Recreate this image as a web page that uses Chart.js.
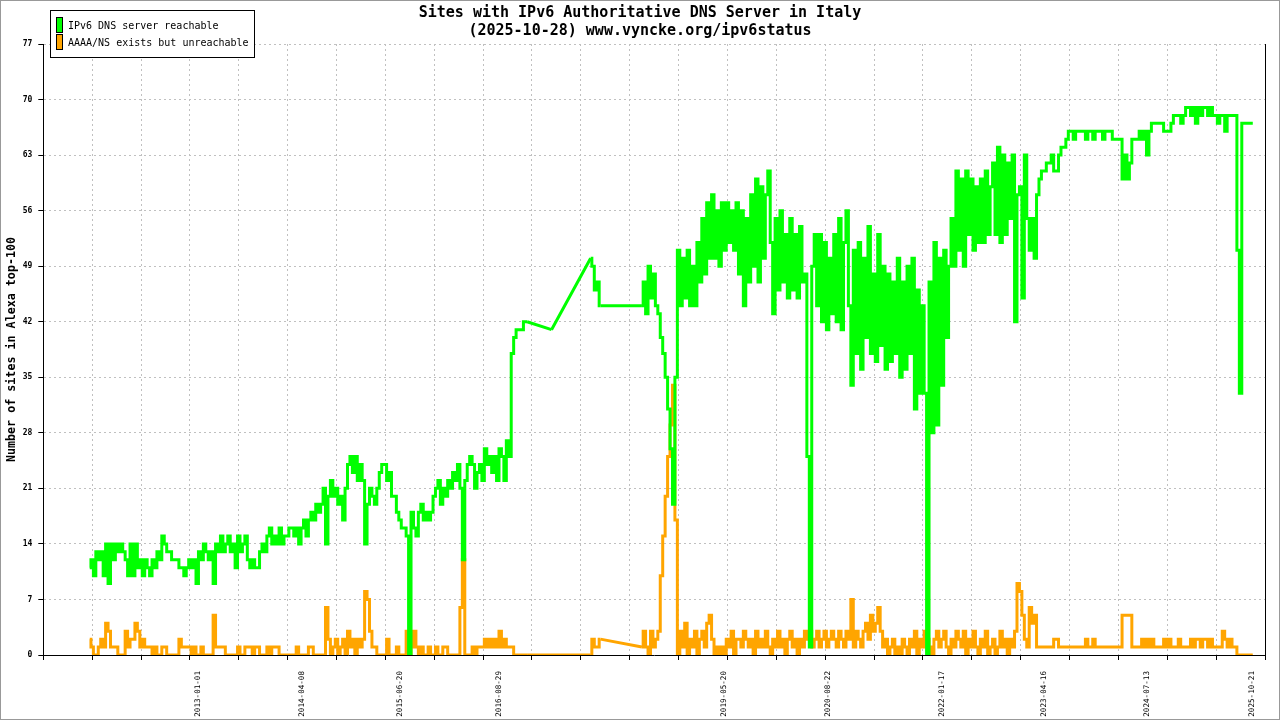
<!DOCTYPE html>
<html>
<head>
<meta charset="utf-8">
<title>IPv6 Authoritative DNS Server in Italy</title>
<script src="https://cdn.jsdelivr.net/npm/chart.js@4.4.1/dist/chart.umd.min.js"></script>
<style>
    body { margin: 0; background: #fff; }
    #wrap { width: 1280px; height: 720px; }
</style>
</head>
<body>
<div id="wrap"><canvas id="dnsChart" width="1280" height="720"></canvas></div>
<script>
// Sites with IPv6 authoritative DNS server - Italy

// samples are on an index axis, first sample at index 19, null = no sample
const sampleStart = 19;

const reachable = [
    11,
    12,10,13,12,13,10,14,9,14,12,14,13,14,13,12,10,14,10,14,11,
    12,10,12,11,10,12,11,13,12,15,14,13,13,12,12,12,11,11,10,11,
    12,11,12,9,13,12,14,13,12,13,9,14,13,15,13,14,15,13,14,11,
    15,13,14,15,12,11,12,11,11,13,14,13,15,16,14,15,14,16,14,15,
    15,16,16,15,16,14,16,17,15,17,18,17,19,18,19,21,14,20,22,20,
    21,19,20,17,21,24,25,23,25,22,24,22,14,19,21,20,19,21,23,24,
    24,22,23,20,20,18,17,16,16,15,0,18,16,15,18,19,17,18,17,18,
    20,21,22,19,21,20,22,21,23,22,24,21,12,22,24,25,24,21,23,24,
    22,26,24,25,23,25,22,26,25,22,27,25,38,40,41,41,41,42,42,null,
    null,null,null,null,null,null,null,null,41,null,null,null,null,null,null,null,null,null,null,null,
    null,null,null,null,50,49,46,47,44,null,null,null,null,null,null,null,null,null,null,null,
    null,null,null,null,null,44,47,43,49,45,48,44,43,40,38,35,31,26,19,35,
    51,44,50,45,51,44,49,44,52,47,55,48,57,50,58,50,56,49,57,51,
    57,52,56,51,57,48,56,44,55,47,58,49,60,47,59,50,58,61,52,43,
    55,46,56,47,53,45,55,46,53,45,54,47,48,25,1,49,53,44,53,42,
    52,41,50,43,53,42,55,41,52,56,44,34,51,38,52,36,50,40,54,38,
    48,37,53,39,49,36,48,37,47,38,50,35,47,36,49,38,50,31,46,33,
    44,33,0,47,28,52,29,50,34,51,40,49,55,49,61,51,60,49,61,53,
    60,51,59,52,60,52,61,53,59,62,53,64,52,63,53,62,55,63,42,58,
    59,45,63,55,51,55,50,58,60,61,61,62,62,63,61,61,63,64,64,65,
    66,66,65,66,66,66,66,65,66,66,65,66,66,66,65,66,66,66,65,65,
    65,65,60,63,60,62,65,65,65,66,65,66,63,66,67,67,67,67,67,66,
    66,66,67,68,68,68,67,68,69,69,68,69,67,69,68,69,69,68,69,68,
    68,67,68,68,66,68,68,68,68,51,33,67,67,67,67,67
];

const unreachable = [
    2,
    1,0,0,1,2,1,4,3,1,1,1,0,0,0,3,1,2,2,4,3,
    1,2,1,1,1,0,1,0,0,1,1,0,0,0,0,0,2,1,1,1,
    1,0,1,0,0,1,0,0,0,0,5,1,1,1,1,0,0,0,0,0,
    1,0,0,1,1,1,0,1,1,0,0,0,1,0,1,1,1,0,0,0,
    0,0,0,0,1,0,0,0,0,1,1,0,0,0,0,0,6,2,0,1,
    2,0,1,2,0,3,1,2,0,2,1,2,8,7,3,1,1,0,0,0,
    0,2,0,0,0,1,0,0,0,3,0,1,3,1,0,1,0,0,1,0,
    0,1,0,0,1,1,0,0,0,0,0,6,12,0,0,0,1,0,1,1,
    1,2,1,2,1,2,1,3,1,2,1,1,1,0,0,0,0,0,0,null,
    null,null,null,null,null,null,null,null,0,null,null,null,null,null,null,null,null,null,null,null,
    null,null,null,null,0,2,1,1,2,null,null,null,null,null,null,null,null,null,null,null,
    null,null,null,null,null,1,3,1,0,3,1,2,3,10,15,20,25,29,34,17,
    0,3,1,4,0,2,1,3,0,2,3,1,4,5,2,0,1,0,1,0,
    2,1,3,0,2,2,1,3,2,1,2,0,3,1,2,1,3,1,0,2,
    1,3,1,2,0,2,3,1,2,0,2,1,3,2,3,1,2,3,1,2,
    3,1,2,3,2,1,3,2,1,3,2,7,1,3,2,1,3,4,2,5,
    3,4,6,3,1,2,0,1,2,0,1,0,2,1,0,2,1,3,0,2,
    1,3,2,1,0,2,3,1,2,3,1,0,2,1,3,2,1,3,0,2,
    1,3,1,0,2,1,3,0,1,2,0,1,3,1,2,0,2,1,3,9,
    8,5,2,1,6,4,5,1,1,1,1,1,1,1,2,2,1,1,1,1,
    1,1,1,1,1,1,1,2,1,1,2,1,1,1,1,1,1,1,1,1,
    1,1,5,5,5,5,1,1,1,1,2,1,2,1,2,1,1,1,1,2,
    1,2,1,1,1,2,1,1,1,1,2,1,2,2,1,2,2,1,2,1,
    1,1,1,3,2,1,2,1,1,0,0,0,0,0,0,0
];

// date labels and the sample index they sit on
const dateLabels = ["2013-01-01", "2014-04-08", "2015-06-20", "2016-08-29", "2019-05-20",
                    "2020-08-22", "2022-01-17", "2023-04-16", "2024-07-13", "2025-10-21"];
const dateLabelIdx = [63.4, 105.7, 146, 186.5, 278.6, 321.3, 367.9, 409.5, 451.6, 494.5];

const yTicks = { min: 0, max: 77, step: 7 };
const xTicks = { min: 0, max: 500, step: 20 };

const monoFont = "'DejaVu Sans Mono', 'Liberation Mono', monospace";
const gridGrey = "#c0c0c0";
const green = "#00ff00";
const orange = "#ffa500";

function toPoints(values) {
    return values.map((v, i) => ({ x: sampleStart + i, y: v }));
}

// where samples are missing the original just draws a straight line
// between the samples on both sides of the hole
function gapBridges(values) {
    const pts = [];
    for (let i = 0; i < values.length; i++) {
        if (values[i] !== null) continue;
        let j = i;
        while (j < values.length && values[j] === null) j++;
        pts.push({ x: sampleStart + i - 1, y: values[i - 1] });
        pts.push({ x: sampleStart + j, y: values[j] });
        pts.push({ x: sampleStart + j, y: null });
        i = j;
    }
    return pts;
}

function seriesLine(label, values, color) {
    return {
        label: label,
        data: toPoints(values),
        borderColor: color,
        backgroundColor: color,
        borderWidth: 3,
        pointRadius: 0,
        stepped: "middle",
        spanGaps: false,
        borderJoinStyle: "miter",
        borderCapStyle: "butt",
        xAxisID: "x",
        yAxisID: "y"
    };
}

function bridgeLine(values, color) {
    return {
        label: "",
        bridge: true,
        data: gapBridges(values),
        borderColor: color,
        borderWidth: 3,
        pointRadius: 0,
        tension: 0,
        spanGaps: false,
        xAxisID: "x",
        yAxisID: "y"
    };
}

// legend box in the top left corner + grey picture frame
const legendAndFrame = {
    id: "legendAndFrame",
    afterDraw(chart) {
        const ctx = chart.ctx;
        ctx.save();
        ctx.lineWidth = 1;
        ctx.fillStyle = "#fff";
        ctx.strokeStyle = "#000";
        ctx.fillRect(50.5, 10.5, 204, 47);
        ctx.strokeRect(50.5, 10.5, 204, 47);

        ctx.font = "10px " + monoFont;
        ctx.textBaseline = "middle";
        ctx.textAlign = "left";
        chart.data.datasets.filter(ds => !ds.bridge).forEach((ds, i) => {
            const top = 17.5 + i * 17;
            ctx.fillStyle = ds.borderColor;
            ctx.fillRect(56.5, top, 6, 15);
            ctx.strokeStyle = "#000";
            ctx.strokeRect(56.5, top, 6, 15);
            ctx.fillStyle = "#000";
            ctx.fillText(ds.label, 68, top + 8.5);
        });

        ctx.strokeStyle = "#999";
        ctx.strokeRect(0.5, 0.5, 1279, 719);
        ctx.restore();
    }
};

const ctx = document.getElementById("dnsChart").getContext("2d");

const chart = new Chart(ctx, {
    type: "line",
    data: {
        datasets: [
            seriesLine("IPv6 DNS server reachable", reachable, green),
            seriesLine("AAAA/NS exists but unreachable", unreachable, orange),
            bridgeLine(reachable, green),
            bridgeLine(unreachable, orange)
        ]
    },
    options: {
        responsive: false,
        animation: false,
        events: [],
        layout: { padding: 0 },
        plugins: {
            legend: { display: false },
            tooltip: { enabled: false },
            title: {
                display: true,
                text: ["Sites with IPv6 Authoritative DNS Server in Italy",
                       "(2025-10-28) www.vyncke.org/ipv6status"],
                color: "#000",
                font: { family: monoFont, size: 15, weight: "bold", lineHeight: 1.2 },
                padding: { top: 4, bottom: 4 }
            }
        },
        scales: {
            x: {
                type: "linear",
                position: "bottom",
                weight: 0,
                min: xTicks.min,
                max: xTicks.max,
                ticks: { display: false, stepSize: xTicks.step },
                grid: {
                    color: c => (c.tick && (c.tick.value === xTicks.min || c.tick.value === xTicks.max)) ? "rgba(0,0,0,0)" : gridGrey,
                    tickColor: "#000",
                    tickLength: 5,
                    lineWidth: 1
                },
                border: { color: "#000", width: 1, dash: [2, 3] },
                afterFit: s => { s.height = 5; }
            },
            xDates: {
                type: "linear",
                position: "bottom",
                weight: 1,
                min: xTicks.min,
                max: xTicks.max,
                grid: { display: false },
                border: { display: false },
                afterBuildTicks: s => { s.ticks = dateLabelIdx.map(v => ({ value: v })); },
                ticks: {
                    autoSkip: false,
                    minRotation: 90,
                    maxRotation: 90,
                    padding: 3,
                    color: "#000",
                    font: { family: monoFont, size: 7.6 },
                    callback: (v, i) => dateLabels[i]
                },
                afterFit: s => { s.height = 60; }
            },
            y: {
                type: "linear",
                position: "left",
                min: yTicks.min,
                max: yTicks.max,
                ticks: {
                    stepSize: yTicks.step,
                    padding: 6,
                    color: "#000",
                    font: { family: monoFont, size: 8, weight: "bold" }
                },
                grid: {
                    color: c => (c.tick && c.tick.value === yTicks.min) ? "rgba(0,0,0,0)" : gridGrey,
                    tickColor: "#000",
                    tickLength: 5,
                    lineWidth: 1
                },
                border: { color: "#000", width: 1, dash: [2, 3] },
                title: {
                    display: true,
                    text: "Number of sites in Alexa top-100",
                    color: "#000",
                    font: { family: monoFont, size: 11.7, weight: "bold" },
                    padding: { top: 5, bottom: 0 }
                },
                afterFit: s => { s.width = 43.3; }
            },
            yRight: {
                type: "linear",
                position: "right",
                min: yTicks.min,
                max: yTicks.max,
                grid: { display: false },
                ticks: { display: false },
                border: { color: "#000", width: 1 },
                afterFit: s => { s.width = 15; }
            }
        }
    },
    plugins: [legendAndFrame]
});
</script>
</body>
</html>
